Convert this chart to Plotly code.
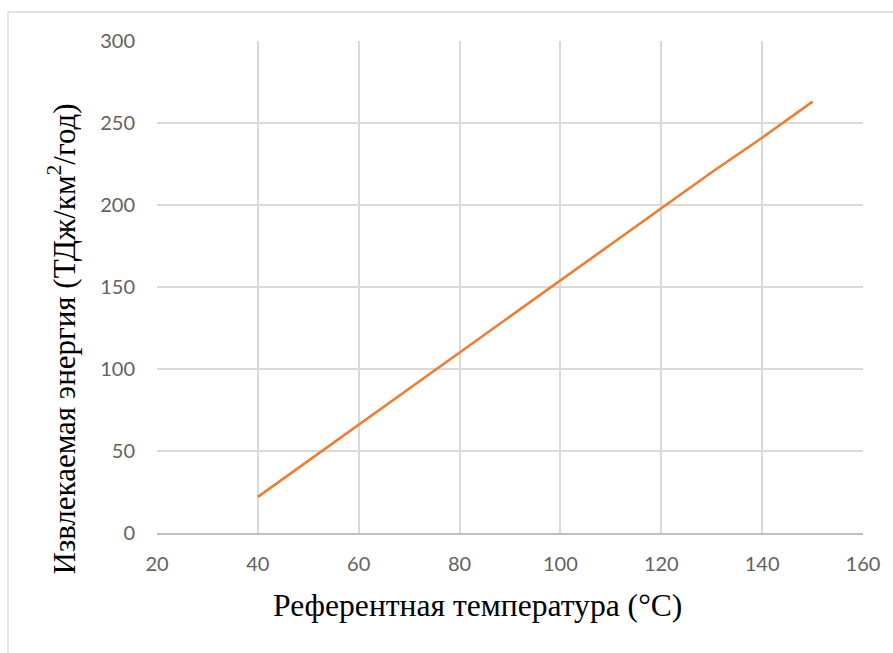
import plotly.graph_objects as go

# Reference temperature (°C) and extracted energy (TJ/km²/year)
temperature = [40, 50, 60, 70, 80, 90, 100, 110, 120, 130, 140, 150]
energy = [22, 44, 66, 88, 110, 132, 154, 176, 198, 220, 241, 263]

x_ticks = [20, 40, 60, 80, 100, 120, 140, 160]
y_ticks = [0, 50, 100, 150, 200, 250, 300]

x_title = "Референтная температура (°C)"
y_title = "Извлекаемая энергия (ТДж/км<sup>2</sup>/год)"

# plot area in pixels: left 157, right 863, top 41, bottom 533
L, R, T, B = 157, 863, 41, 533
W, H = R - L, B - T


def px_x(p):
    return (p - L) / W


def px_y(p):
    return (B - p) / H


fig = go.Figure()
fig.add_trace(go.Scatter(
    x=temperature, y=energy, mode="lines",
    line=dict(color="#ED7D31", width=2.6),
    showlegend=False,
))

tick_font = dict(family="Lato, Open Sans, sans-serif", size=20, color="#626262")
serif = "Liberation Serif, Times New Roman, serif"

fig.update_layout(
    width=893, height=653,
    margin=dict(l=L, r=893 - R, t=T, b=653 - B),
    paper_bgcolor="white", plot_bgcolor="white",
    xaxis=dict(
        range=[20, 160], tickvals=x_ticks, ticktext=[str(v) for v in x_ticks],
        showgrid=True, gridcolor="#d9d9d9", gridwidth=1.5,
        zeroline=False, showline=True, linecolor="#bfbfbf", linewidth=1.5,
        tickfont=tick_font, ticks="", ticklabelstandoff=12,
    ),
    yaxis=dict(
        range=[0, 300], tickvals=y_ticks, ticktext=[str(v) for v in y_ticks],
        showgrid=True, gridcolor="#d9d9d9", gridwidth=1.5,
        zeroline=False, showline=False,
        tickfont=tick_font, ticks="", ticklabelstandoff=21,
    ),
    annotations=[
        dict(text=x_title, xref="paper", yref="paper",
             x=px_x(477), y=px_y(605), xanchor="center", yanchor="middle",
             showarrow=False, font=dict(family=serif, size=31.6, color="#000000")),
        dict(text=y_title, xref="paper", yref="paper", textangle=-90,
             x=px_x(62), y=px_y(339.5), xanchor="center", yanchor="middle",
             showarrow=False, font=dict(family=serif, size=31, color="#000000")),
    ],
    shapes=[dict(
        type="rect", xref="paper", yref="paper",
        x0=px_x(8), x1=px_x(900), y0=px_y(660), y1=px_y(12),
        line=dict(color="#d9d9d9", width=1.3), fillcolor="rgba(0,0,0,0)", layer="below",
    )],
)

fig.write_html("out.html")
